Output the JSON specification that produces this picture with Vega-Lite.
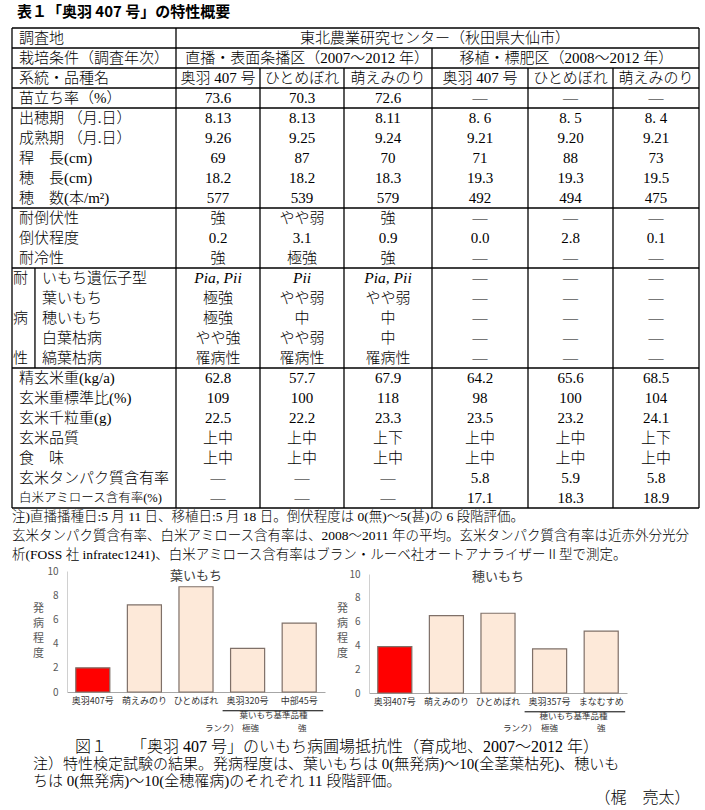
{
  "$schema": "https://vega.github.io/schema/vega-lite/v6.json",
  "width": 705,
  "height": 810,
  "padding": 0,
  "autosize": {"type": "none"},
  "background": "white",
  "config": {"view": {"stroke": null}},
  "datasets": {
    "cells": [
      {"r":0,"c":4.03,"t":"東北農業研究センター（秋田県大仙市）"},
      {"r":1,"c":2.56,"t":"直播・表面条播区（2007～2012 年）"},
      {"r":1,"c":5.45,"t":"移植・標肥区（2008～2012 年）"},
      {"r":2,"c":1.5,"t":"奥羽 407 号"},{"r":2,"c":2.5,"t":"ひとめぼれ"},{"r":2,"c":3.5,"t":"萌えみのり"},{"r":2,"c":4.5,"t":"奥羽 407 号"},{"r":2,"c":5.5,"t":"ひとめぼれ"},{"r":2,"c":6.5,"t":"萌えみのり"},
      {"r":3,"c":1.5,"t":"73.6"},{"r":3,"c":2.5,"t":"70.3"},{"r":3,"c":3.5,"t":"72.6"},{"r":3,"c":4.5,"t":"―"},{"r":3,"c":5.5,"t":"―"},{"r":3,"c":6.5,"t":"―"},
      {"r":4,"c":1.5,"t":"8.13"},{"r":4,"c":2.5,"t":"8.13"},{"r":4,"c":3.5,"t":"8.11"},{"r":4,"c":4.5,"t":"8. 6"},{"r":4,"c":5.5,"t":"8. 5"},{"r":4,"c":6.5,"t":"8. 4"},
      {"r":5,"c":1.5,"t":"9.26"},{"r":5,"c":2.5,"t":"9.25"},{"r":5,"c":3.5,"t":"9.24"},{"r":5,"c":4.5,"t":"9.21"},{"r":5,"c":5.5,"t":"9.20"},{"r":5,"c":6.5,"t":"9.21"},
      {"r":6,"c":1.5,"t":"69"},{"r":6,"c":2.5,"t":"87"},{"r":6,"c":3.5,"t":"70"},{"r":6,"c":4.5,"t":"71"},{"r":6,"c":5.5,"t":"88"},{"r":6,"c":6.5,"t":"73"},
      {"r":7,"c":1.5,"t":"18.2"},{"r":7,"c":2.5,"t":"18.2"},{"r":7,"c":3.5,"t":"18.3"},{"r":7,"c":4.5,"t":"19.3"},{"r":7,"c":5.5,"t":"19.3"},{"r":7,"c":6.5,"t":"19.5"},
      {"r":8,"c":1.5,"t":"577"},{"r":8,"c":2.5,"t":"539"},{"r":8,"c":3.5,"t":"579"},{"r":8,"c":4.5,"t":"492"},{"r":8,"c":5.5,"t":"494"},{"r":8,"c":6.5,"t":"475"},
      {"r":9,"c":1.5,"t":"強"},{"r":9,"c":2.5,"t":"やや弱"},{"r":9,"c":3.5,"t":"強"},{"r":9,"c":4.5,"t":"―"},{"r":9,"c":5.5,"t":"―"},{"r":9,"c":6.5,"t":"―"},
      {"r":10,"c":1.5,"t":"0.2"},{"r":10,"c":2.5,"t":"3.1"},{"r":10,"c":3.5,"t":"0.9"},{"r":10,"c":4.5,"t":"0.0"},{"r":10,"c":5.5,"t":"2.8"},{"r":10,"c":6.5,"t":"0.1"},
      {"r":11,"c":1.5,"t":"強"},{"r":11,"c":2.5,"t":"極強"},{"r":11,"c":3.5,"t":"強"},{"r":11,"c":4.5,"t":"―"},{"r":11,"c":5.5,"t":"―"},{"r":11,"c":6.5,"t":"―"},
      {"r":12,"c":1.5,"t":"Pia, Pii"},{"r":12,"c":2.5,"t":"Pii"},{"r":12,"c":3.5,"t":"Pia, Pii"},{"r":12,"c":4.5,"t":"―"},{"r":12,"c":5.5,"t":"―"},{"r":12,"c":6.5,"t":"―"},
      {"r":13,"c":1.5,"t":"極強"},{"r":13,"c":2.5,"t":"やや弱"},{"r":13,"c":3.5,"t":"やや弱"},{"r":13,"c":4.5,"t":"―"},{"r":13,"c":5.5,"t":"―"},{"r":13,"c":6.5,"t":"―"},
      {"r":14,"c":1.5,"t":"極強"},{"r":14,"c":2.5,"t":"中"},{"r":14,"c":3.5,"t":"中"},{"r":14,"c":4.5,"t":"―"},{"r":14,"c":5.5,"t":"―"},{"r":14,"c":6.5,"t":"―"},
      {"r":15,"c":1.5,"t":"やや強"},{"r":15,"c":2.5,"t":"やや弱"},{"r":15,"c":3.5,"t":"中"},{"r":15,"c":4.5,"t":"―"},{"r":15,"c":5.5,"t":"―"},{"r":15,"c":6.5,"t":"―"},
      {"r":16,"c":1.5,"t":"罹病性"},{"r":16,"c":2.5,"t":"罹病性"},{"r":16,"c":3.5,"t":"罹病性"},{"r":16,"c":4.5,"t":"―"},{"r":16,"c":5.5,"t":"―"},{"r":16,"c":6.5,"t":"―"},
      {"r":17,"c":1.5,"t":"62.8"},{"r":17,"c":2.5,"t":"57.7"},{"r":17,"c":3.5,"t":"67.9"},{"r":17,"c":4.5,"t":"64.2"},{"r":17,"c":5.5,"t":"65.6"},{"r":17,"c":6.5,"t":"68.5"},
      {"r":18,"c":1.5,"t":"109"},{"r":18,"c":2.5,"t":"100"},{"r":18,"c":3.5,"t":"118"},{"r":18,"c":4.5,"t":"98"},{"r":18,"c":5.5,"t":"100"},{"r":18,"c":6.5,"t":"104"},
      {"r":19,"c":1.5,"t":"22.5"},{"r":19,"c":2.5,"t":"22.2"},{"r":19,"c":3.5,"t":"23.3"},{"r":19,"c":4.5,"t":"23.5"},{"r":19,"c":5.5,"t":"23.2"},{"r":19,"c":6.5,"t":"24.1"},
      {"r":20,"c":1.5,"t":"上中"},{"r":20,"c":2.5,"t":"上中"},{"r":20,"c":3.5,"t":"上下"},{"r":20,"c":4.5,"t":"上中"},{"r":20,"c":5.5,"t":"上中"},{"r":20,"c":6.5,"t":"上下"},
      {"r":21,"c":1.5,"t":"上中"},{"r":21,"c":2.5,"t":"上中"},{"r":21,"c":3.5,"t":"上中"},{"r":21,"c":4.5,"t":"上中"},{"r":21,"c":5.5,"t":"上中"},{"r":21,"c":6.5,"t":"上中"},
      {"r":22,"c":1.5,"t":"―"},{"r":22,"c":2.5,"t":"―"},{"r":22,"c":3.5,"t":"―"},{"r":22,"c":4.5,"t":"5.8"},{"r":22,"c":5.5,"t":"5.9"},{"r":22,"c":6.5,"t":"5.8"},
      {"r":23,"c":1.5,"t":"―"},{"r":23,"c":2.5,"t":"―"},{"r":23,"c":3.5,"t":"―"},{"r":23,"c":4.5,"t":"17.1"},{"r":23,"c":5.5,"t":"18.3"},{"r":23,"c":6.5,"t":"18.9"}
    ],
    "labels": [
      {"r":0,"c":0,"t":"調査地"},
      {"r":1,"c":0,"t":"栽培条件（調査年次）"},
      {"r":2,"c":0,"t":"系統・品種名"},
      {"r":3,"c":0,"t":"苗立ち率（%）"},
      {"r":4,"c":0,"t":"出穂期 （月.日）"},
      {"r":5,"c":0,"t":"成熟期 （月.日）"},
      {"r":6,"c":0,"t":"稈　長(cm)"},
      {"r":7,"c":0,"t":"穂　長(cm)"},
      {"r":8,"c":0,"t":"穂　数(本/m²)"},
      {"r":9,"c":0,"t":"耐倒伏性"},
      {"r":10,"c":0,"t":"倒伏程度"},
      {"r":11,"c":0,"t":"耐冷性"},
      {"r":12,"c":0.14,"t":"いもち遺伝子型"},
      {"r":13,"c":0.14,"t":"葉いもち"},
      {"r":14,"c":0.14,"t":"穂いもち"},
      {"r":15,"c":0.14,"t":"白葉枯病"},
      {"r":16,"c":0.14,"t":"縞葉枯病"},
      {"r":17,"c":0,"t":"精玄米重(kg/a)"},
      {"r":18,"c":0,"t":"玄米重標準比(%)"},
      {"r":19,"c":0,"t":"玄米千粒重(g)"},
      {"r":20,"c":0,"t":"玄米品質"},
      {"r":21,"c":0,"t":"食　味"},
      {"r":22,"c":0,"t":"玄米タンパク質含有率"},
      {"r":23,"c":0,"t":"白米アミロース含有率(%)"}
    ],
    "side": [{"r":12,"t":"耐"},{"r":14,"t":"病"},{"r":16,"t":"性"}],
    "hlines": [
      {"y":0,"x1":0,"x2":7},{"y":1,"x1":0,"x2":7},{"y":2,"x1":0,"x2":7},{"y":3,"x1":0,"x2":7},{"y":4,"x1":0,"x2":7},
      {"y":9,"x1":0,"x2":7},{"y":12,"x1":0,"x2":7},{"y":17,"x1":0,"x2":7},{"y":24,"x1":0,"x2":7}
    ],
    "vlines": [
      {"x":0,"y1":0,"y2":24},{"x":1,"y1":0,"y2":24},{"x":7,"y1":0,"y2":24},{"x":4,"y1":1,"y2":24},
      {"x":2,"y1":2,"y2":24},{"x":3,"y1":2,"y2":24},{"x":5,"y1":2,"y2":24},{"x":6,"y1":2,"y2":24},
      {"x":0.14,"y1":12,"y2":17}
    ],
    "leaf": [
      {"v":"奥羽407号","s":2.0,"rank":""},
      {"v":"萌えみのり","s":7.2,"rank":""},
      {"v":"ひとめぼれ","s":8.7,"rank":""},
      {"v":"奥羽320号","s":3.6,"rank":"極強"},
      {"v":"中部45号","s":5.7,"rank":"強"}
    ],
    "panicle": [
      {"v":"奥羽407号","s":3.9,"rank":""},
      {"v":"萌えみのり","s":6.5,"rank":""},
      {"v":"ひとめぼれ","s":6.7,"rank":""},
      {"v":"奥羽357号","s":3.7,"rank":"極強"},
      {"v":"まなむすめ","s":5.2,"rank":"強"}
    ],
    "notes": [
      {"n":1,"t":"注)直播播種日:5 月 11 日、移植日:5 月 18 日。倒伏程度は 0(無)～5(甚)の 6 段階評価。"},
      {"n":2,"t":"玄米タンパク質含有率、白米アミロース含有率は、2008～2011 年の平均。玄米タンパク質含有率は近赤外分光分"},
      {"n":3,"t":"析(FOSS 社 infratec1241)、白米アミロース含有率はブラン・ルーベ社オートアナライザーⅡ型で測定。"},
      {"n":4,"t":"図１　　「奥羽 407 号」のいもち病圃場抵抗性（育成地、2007～2012 年）"},
      {"n":5,"t":"注）特性検定試験の結果。発病程度は、葉いもちは 0(無発病)～10(全茎葉枯死)、穂いも"},
      {"n":6,"t":"ちは 0(無発病)～10(全穂罹病)のそれぞれ 11 段階評価。"},
      {"n":7,"t":"（梶　亮太）"}
    ]
  },
  "resolve": {"scale": {"x": "independent", "y": "independent"}, "axis": {"x": "independent", "y": "independent"}},
  "layer": [
    {
      "layer": [
        {
          "data": {"name": "hlines"},
          "mark": {"type": "rule", "stroke": "#000000", "strokeWidth": 1.3},
          "encoding": {
            "x": {"field": "x1", "type": "quantitative", "axis": null, "scale": {"type": "linear", "domain": [0,1,2,3,4,5,6,7], "range": [12,176,260,344,432,528,613,699], "nice": false, "zero": false}},
            "x2": {"field": "x2"},
            "y": {"field": "y", "type": "quantitative", "axis": null, "scale": {"type": "linear", "domain": [0,24], "range": [28,508], "nice": false, "zero": false}}
          }
        },
        {
          "data": {"name": "vlines"},
          "mark": {"type": "rule", "stroke": "#000000", "strokeWidth": 1.3},
          "encoding": {
            "x": {"field": "x", "type": "quantitative", "axis": null},
            "y": {"field": "y1", "type": "quantitative", "axis": null},
            "y2": {"field": "y2"}
          }
        },
        {
          "data": {"name": "cells"},
          "transform": [{"filter": "!(datum.r == 12 && datum.c < 4)"}],
          "mark": {"type": "text", "align": "center", "baseline": "middle", "dy": 10, "font": "Liberation Serif, Noto Sans CJK JP", "fontSize": 15, "fontWeight": 300, "color": "#000000"},
          "encoding": {
            "x": {"field": "c", "type": "quantitative", "axis": null},
            "y": {"field": "r", "type": "quantitative", "axis": null},
            "text": {"field": "t"}
          }
        },
        {
          "data": {"name": "cells"},
          "transform": [{"filter": "datum.r == 12 && datum.c < 4"}],
          "mark": {"type": "text", "align": "center", "baseline": "middle", "dy": 10, "font": "Liberation Serif", "fontSize": 15.5, "fontStyle": "italic", "fontWeight": 300, "color": "#000000"},
          "encoding": {
            "x": {"field": "c", "type": "quantitative", "axis": null},
            "y": {"field": "r", "type": "quantitative", "axis": null},
            "text": {"field": "t"}
          }
        },
        {
          "data": {"name": "labels"},
          "transform": [{"filter": "datum.r != 23"}],
          "mark": {"type": "text", "align": "left", "baseline": "middle", "dx": 7, "dy": 10, "font": "Liberation Serif, Noto Sans CJK JP", "fontSize": 15, "fontWeight": 300, "color": "#000000"},
          "encoding": {
            "x": {"field": "c", "type": "quantitative", "axis": null},
            "y": {"field": "r", "type": "quantitative", "axis": null},
            "text": {"field": "t"}
          }
        },
        {
          "data": {"name": "labels"},
          "transform": [{"filter": "datum.r == 23"}],
          "mark": {"type": "text", "align": "left", "baseline": "middle", "dx": 7, "dy": 10, "font": "Liberation Serif, Noto Sans CJK JP", "fontSize": 12.5, "fontWeight": 300, "color": "#000000"},
          "encoding": {
            "x": {"field": "c", "type": "quantitative", "axis": null},
            "y": {"field": "r", "type": "quantitative", "axis": null},
            "text": {"field": "t"}
          }
        },
        {
          "data": {"name": "side"},
          "mark": {"type": "text", "align": "left", "baseline": "middle", "dx": 1, "dy": 10, "font": "Noto Sans CJK JP", "fontSize": 15, "fontWeight": 300, "color": "#000000"},
          "encoding": {
            "x": {"datum": 0, "type": "quantitative", "axis": null},
            "y": {"field": "r", "type": "quantitative", "axis": null},
            "text": {"field": "t"}
          }
        },
        {
          "data": {"values": [{"t": "表１「奥羽 407 号」の特性概要"}]},
          "mark": {"type": "text", "align": "left", "baseline": "middle", "font": "Noto Sans CJK JP", "fontSize": 15, "fontWeight": "bold", "color": "#000000"},
          "encoding": {
            "x": {"datum": 0.03, "type": "quantitative", "axis": null},
            "y": {"datum": -0.82, "type": "quantitative", "axis": null},
            "text": {"field": "t"}
          }
        }
      ]
    },
    {
      "layer": [
        {
          "data": {"name": "leaf"},
          "mark": {"type": "bar", "stroke": "#7f7068", "strokeWidth": 1.2},
          "encoding": {
            "x": {"field": "v", "type": "nominal", "sort": null,
              "scale": {"type": "band", "domain": ["奥羽407号","萌えみのり","ひとめぼれ","奥羽320号","中部45号"], "range": [67,325], "paddingInner": 0.34, "paddingOuter": 0.17},
              "axis": {"orient": "bottom", "offset": -118, "title": null, "ticks": false, "grid": false, "labelAngle": 0, "labelPadding": 4, "labelFont": "Noto Sans CJK JP", "labelFontSize": 9, "labelColor": "#333333", "labelOverlap": false, "labelBound": false, "domainColor": "#a6a6a6", "domainWidth": 1}},
            "y": {"field": "s", "type": "quantitative",
              "scale": {"domain": [0,10], "range": [692,571], "nice": false, "zero": true},
              "axis": {"orient": "left", "offset": -67, "values": [0,2,4,6,8,10], "format": "d", "ticks": false, "grid": false, "labelPadding": 9, "labelFlush": false, "labelFont": "Noto Sans CJK JP", "labelFontSize": 10, "labelColor": "#595959", "domainColor": "#d0d0d0", "domainWidth": 1,
                "title": ["発","病","程","度"], "titleAngle": 0, "titleX": -29, "titleY": 602, "titleAlign": "center", "titleBaseline": "top", "titleLineHeight": 15, "titleFont": "Noto Sans CJK JP", "titleFontSize": 11, "titleFontWeight": "normal", "titleColor": "#595959"}},
            "fill": {"condition": {"test": "datum.v === '奥羽407号'", "value": "#ff0000"}, "value": "#fde9d9"}
          }
        },
        {
          "data": {"values": [{}]},
          "mark": {"type": "text", "text": "葉いもち", "align": "center", "baseline": "middle", "dy": 5, "font": "Noto Sans CJK JP", "fontSize": 13, "color": "#404040"},
          "encoding": {"x": {"datum": "ひとめぼれ"}, "y": {"datum": 10}}
        },
        {
          "data": {"values": [{}]},
          "mark": {"type": "rule", "stroke": "#000000", "strokeWidth": 1, "xOffset": -25, "x2Offset": 24},
          "encoding": {"x": {"datum": "奥羽320号"}, "x2": {"datum": "中部45号"}, "y": {"datum": -1.55}}
        },
        {
          "data": {"values": [{}]},
          "mark": {"type": "text", "text": "葉いもち基準品種", "align": "center", "baseline": "middle", "dx": 26, "font": "Noto Sans CJK JP", "fontSize": 8.5, "color": "#333333"},
          "encoding": {"x": {"datum": "奥羽320号"}, "y": {"datum": -1.93}}
        },
        {
          "data": {"values": [{}]},
          "mark": {"type": "text", "text": "ランク）", "align": "center", "baseline": "middle", "dx": 26, "font": "Noto Sans CJK JP", "fontSize": 8.5, "color": "#333333"},
          "encoding": {"x": {"datum": "ひとめぼれ"}, "y": {"datum": -2.97}}
        },
        {
          "data": {"name": "leaf"},
          "mark": {"type": "text", "align": "center", "baseline": "middle", "dx": 3, "font": "Noto Sans CJK JP", "fontSize": 8.5, "color": "#333333"},
          "encoding": {"x": {"field": "v", "type": "nominal"}, "y": {"datum": -2.97}, "text": {"field": "rank"}}
        }
      ]
    },
    {
      "layer": [
        {
          "data": {"name": "panicle"},
          "mark": {"type": "bar", "stroke": "#7f7068", "strokeWidth": 1.2},
          "encoding": {
            "x": {"field": "v", "type": "nominal", "sort": null,
              "scale": {"type": "band", "domain": ["奥羽407号","萌えみのり","ひとめぼれ","奥羽357号","まなむすめ"], "range": [369,627], "paddingInner": 0.34, "paddingOuter": 0.17},
              "axis": {"orient": "bottom", "offset": -117, "title": null, "ticks": false, "grid": false, "labelAngle": 0, "labelPadding": 4, "labelFont": "Noto Sans CJK JP", "labelFontSize": 9, "labelColor": "#333333", "labelOverlap": false, "labelBound": false, "domainColor": "#a6a6a6", "domainWidth": 1}},
            "y": {"field": "s", "type": "quantitative",
              "scale": {"domain": [0,10], "range": [693,574], "nice": false, "zero": true},
              "axis": {"orient": "left", "offset": -369, "values": [0,2,4,6,8,10], "format": "d", "ticks": false, "grid": false, "labelPadding": 9, "labelFlush": false, "labelFont": "Noto Sans CJK JP", "labelFontSize": 10, "labelColor": "#595959", "domainColor": "#d0d0d0", "domainWidth": 1,
                "title": ["発","病","程","度"], "titleAngle": 0, "titleX": -27, "titleY": 602, "titleAlign": "center", "titleBaseline": "top", "titleLineHeight": 15, "titleFont": "Noto Sans CJK JP", "titleFontSize": 11, "titleFontWeight": "normal", "titleColor": "#595959"}},
            "fill": {"condition": {"test": "datum.v === '奥羽407号'", "value": "#ff0000"}, "value": "#fde9d9"}
          }
        },
        {
          "data": {"values": [{}]},
          "mark": {"type": "text", "text": "穂いもち", "align": "center", "baseline": "middle", "dy": 3, "font": "Noto Sans CJK JP", "fontSize": 13, "color": "#404040"},
          "encoding": {"x": {"datum": "ひとめぼれ"}, "y": {"datum": 10}}
        },
        {
          "data": {"values": [{}]},
          "mark": {"type": "rule", "stroke": "#000000", "strokeWidth": 1, "xOffset": -25, "x2Offset": 24},
          "encoding": {"x": {"datum": "奥羽357号"}, "x2": {"datum": "まなむすめ"}, "y": {"datum": -1.58}}
        },
        {
          "data": {"values": [{}]},
          "mark": {"type": "text", "text": "穂いもち基準品種", "align": "center", "baseline": "middle", "dx": 24, "font": "Noto Sans CJK JP", "fontSize": 8.5, "color": "#333333"},
          "encoding": {"x": {"datum": "奥羽357号"}, "y": {"datum": -1.92}}
        },
        {
          "data": {"values": [{}]},
          "mark": {"type": "text", "text": "ランク）", "align": "center", "baseline": "middle", "dx": 22, "font": "Noto Sans CJK JP", "fontSize": 8.5, "color": "#333333"},
          "encoding": {"x": {"datum": "ひとめぼれ"}, "y": {"datum": -2.95}}
        },
        {
          "data": {"name": "panicle"},
          "mark": {"type": "text", "align": "center", "baseline": "middle", "font": "Noto Sans CJK JP", "fontSize": 8.5, "color": "#333333"},
          "encoding": {"x": {"field": "v", "type": "nominal"}, "y": {"datum": -2.95}, "text": {"field": "rank"}}
        }
      ]
    },
    {
      "data": {"name": "notes"},
      "layer": [
        {
          "transform": [{"filter": "datum.n <= 3"}],
          "mark": {"type": "text", "align": "left", "baseline": "middle", "font": "Liberation Serif, Noto Sans CJK JP", "fontSize": 13.5, "fontWeight": 300, "color": "#000000"},
          "encoding": {
            "x": {"datum": 0, "type": "quantitative", "axis": null, "scale": {"type": "linear", "domain": [0,1,2,3,4,5,6,7], "range": [12,176,260,344,432,528,613,699], "nice": false, "zero": false}},
            "y": {"field": "n", "type": "quantitative", "axis": null, "scale": {"type": "linear", "domain": [1,3,4,7], "range": [517,555,747,798], "nice": false, "zero": false}},
            "text": {"field": "t"}
          }
        },
        {
          "transform": [{"filter": "datum.n == 4"}],
          "mark": {"type": "text", "align": "left", "baseline": "middle", "font": "Liberation Serif, Noto Sans CJK JP", "fontSize": 16, "fontWeight": 300, "color": "#000000"},
          "encoding": {"x": {"datum": 0.384, "type": "quantitative"}, "y": {"field": "n", "type": "quantitative"}, "text": {"field": "t"}}
        },
        {
          "transform": [{"filter": "datum.n == 5 || datum.n == 6"}],
          "mark": {"type": "text", "align": "left", "baseline": "middle", "font": "Liberation Serif, Noto Sans CJK JP", "fontSize": 15, "fontWeight": 300, "color": "#000000"},
          "encoding": {"x": {"datum": 0.128, "type": "quantitative"}, "y": {"field": "n", "type": "quantitative"}, "text": {"field": "t"}}
        },
        {
          "transform": [{"filter": "datum.n == 7"}],
          "mark": {"type": "text", "align": "right", "baseline": "middle", "font": "Liberation Serif, Noto Sans CJK JP", "fontSize": 16, "fontWeight": 300, "color": "#000000"},
          "encoding": {"x": {"datum": 6.9, "type": "quantitative"}, "y": {"field": "n", "type": "quantitative"}, "text": {"field": "t"}}
        }
      ]
    }
  ]
}
